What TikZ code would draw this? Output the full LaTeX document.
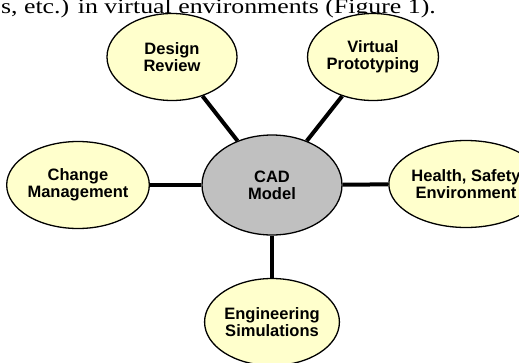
\documentclass[tikz,border=0pt]{standalone}
\usepackage{fontspec}
\setmainfont{Liberation Serif}
\newfontfamily\arialfont{Liberation Sans}
\usetikzlibrary{shapes.geometric}
\definecolor{bubbleyellow}{HTML}{FFFFCC}
\definecolor{hubgray}{HTML}{C0C0C0}
\begin{document}
\begin{tikzpicture}[x=1pt,y=-1pt,
  bubble/.style={ellipse, draw=black, line width=1.3pt, fill=bubbleyellow,
    minimum width=130pt, minimum height=87pt, inner sep=0pt, align=center,
    font=\arialfont\bfseries\fontsize{16.5}{17}\selectfont},
  hub/.style={bubble, fill=hubgray, minimum width=140pt, minimum height=100pt},
  link/.style={line width=4pt}]
\useasboundingbox (0,0) rectangle (519,362);
\clip (0,0) rectangle (519,362);
\node[anchor=base east, inner sep=0pt, font=\fontsize{21}{24}\selectfont] (caption) at (436,13) {\scalebox{1.23}[1]{s, etc.) in virtual environments (Figure 1).}};
\node[hub] (cad) at (272,185) {CAD\\Model};
\node[bubble] (design) at (172,57) {Design\\Review};
\node[bubble] (virtual) at (373,57) {Virtual\\Prototyping};
\node[bubble] (change) at (78,185) {Change\\Management};
\node[bubble] (health) at (466,184) {Health, Safety\\Environment};
\node[bubble] (eng) at (272,322) {Engineering\\Simulations};
\draw[link] (design) -- (cad);
\draw[link] (virtual) -- (cad);
\draw[link] (change) -- (cad);
\draw[link] (cad) -- (health);
\draw[link] (cad) -- (eng);
\end{tikzpicture}
\end{document}
